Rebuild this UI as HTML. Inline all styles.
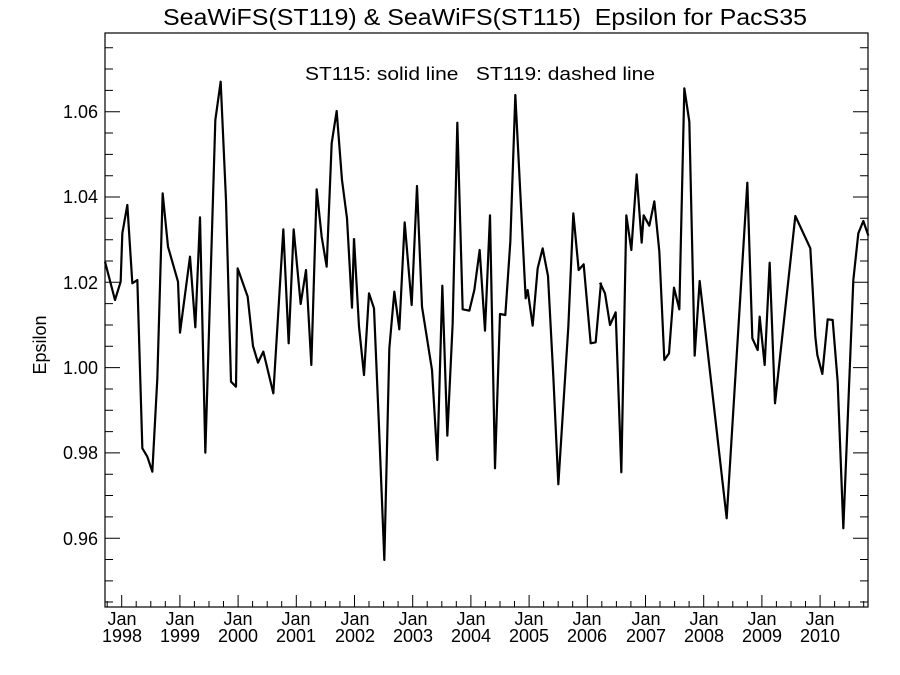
<!DOCTYPE html>
<html><head><meta charset="utf-8"><style>
body{margin:0;background:#fff;}
svg{display:block;font-family:"Liberation Sans",sans-serif;}
text{white-space:pre;}
</style></head><body>
<svg width="900" height="675" viewBox="0 0 900 675" xmlns="http://www.w3.org/2000/svg">
<rect width="900" height="675" fill="#fff"/>
<text x="163" y="25" font-size="23" textLength="644" lengthAdjust="spacingAndGlyphs" xml:space="preserve">SeaWiFS(ST119) &amp; SeaWiFS(ST115)  Epsilon for PacS35</text>
<text x="305" y="80" font-size="18" textLength="350" lengthAdjust="spacingAndGlyphs" xml:space="preserve">ST115: solid line   ST119: dashed line</text>
<rect x="105" y="33" width="763" height="574" fill="none" stroke="#000" stroke-width="1.2"/>
<g stroke="#000" stroke-width="1">
<path d="M105 111.7h15M868 111.7h-15M105 197h15M868 197h-15M105 282.3h15M868 282.3h-15M105 367.6h15M868 367.6h-15M105 452.9h15M868 452.9h-15M105 538.2h15M868 538.2h-15"/>
<path d="M105 47.7h8M868 47.7h-8M105 69h8M868 69h-8M105 90.4h8M868 90.4h-8M105 133h8M868 133h-8M105 154.4h8M868 154.4h-8M105 175.7h8M868 175.7h-8M105 218.3h8M868 218.3h-8M105 239.7h8M868 239.7h-8M105 261h8M868 261h-8M105 303.6h8M868 303.6h-8M105 325h8M868 325h-8M105 346.3h8M868 346.3h-8M105 389h8M868 389h-8M105 410.2h8M868 410.2h-8M105 431.6h8M868 431.6h-8M105 474.2h8M868 474.2h-8M105 495.5h8M868 495.5h-8M105 516.9h8M868 516.9h-8M105 559.5h8M868 559.5h-8M105 580.9h8M868 580.9h-8M105 602h8M868 602h-8"/>
<path d="M121.7 607v-12M179.9 607v-12M238.1 607v-12M296.3 607v-12M354.5 607v-12M412.7 607v-12M470.9 607v-12M529.1 607v-12M587.3 607v-12M645.5 607v-12M703.7 607v-12M761.9 607v-12M820.1 607v-12"/>
<path d="M107.2 607v-6"/>
<path id="mn" d="M136.2 607v-6M150.8 607v-6M165.3 607v-6"/>
<use href="#mn" x="58.2"/><use href="#mn" x="116.4"/><use href="#mn" x="174.6"/><use href="#mn" x="232.8"/><use href="#mn" x="291"/><use href="#mn" x="349.2"/><use href="#mn" x="407.4"/><use href="#mn" x="465.6"/><use href="#mn" x="523.8"/><use href="#mn" x="582"/><use href="#mn" x="640.2"/><use href="#mn" x="698.4"/>
</g>
<g font-size="18" text-anchor="end">
<text x="98" y="118">1.06</text><text x="98" y="203">1.04</text><text x="98" y="289">1.02</text><text x="98" y="374">1.00</text><text x="98" y="459">0.98</text><text x="98" y="545">0.96</text>
</g>
<text transform="translate(46,345) rotate(-90)" font-size="18" text-anchor="middle">Epsilon</text>
<g font-size="18" text-anchor="middle">
<text x="122" y="625">Jan</text><text x="122" y="642">1998</text>
<text x="180" y="625">Jan</text><text x="180" y="642">1999</text>
<text x="238" y="625">Jan</text><text x="238" y="642">2000</text>
<text x="296" y="625">Jan</text><text x="296" y="642">2001</text>
<text x="355" y="625">Jan</text><text x="355" y="642">2002</text>
<text x="413" y="625">Jan</text><text x="413" y="642">2003</text>
<text x="471" y="625">Jan</text><text x="471" y="642">2004</text>
<text x="529" y="625">Jan</text><text x="529" y="642">2005</text>
<text x="587" y="625">Jan</text><text x="587" y="642">2006</text>
<text x="646" y="625">Jan</text><text x="646" y="642">2007</text>
<text x="704" y="625">Jan</text><text x="704" y="642">2008</text>
<text x="762" y="625">Jan</text><text x="762" y="642">2009</text>
<text x="820" y="625">Jan</text><text x="820" y="642">2010</text>
</g>
<g fill="none" stroke="#000" stroke-width="2.2" stroke-linejoin="round">
<polyline transform="translate(100,60) scale(0.33333)" vector-effect="non-scaling-stroke" points="15,605 45,720 62,665 67,520 82,435 97,670 112,660 127,1165 142,1190 157,1235 172,955 188,400 204,560 234,665 240,818 270,590 286,802 300,472 316,1178 346,180 362,65 378,420 393,965 408,980 413,625 443,710 459,858 474,908 490,875 520,1000 550,508 566,850 581,508 602,732 618,630 634,915 650,388 665,530 680,620 695,250 710,153 726,360 741,475 756,743 762,535"/>
<polyline transform="translate(350,60) scale(0.33333)" vector-effect="non-scaling-stroke" points="12,535 27,800 42,945 57,700 72,745 87,1100 103,1500 118,865 133,695 148,808 164,487 185,735 201,378 216,740 246,930 262,1200 277,677 292,1127 308,790 322,188 338,748 358,752 373,690 389,570 405,812 420,466 435,1225 450,762 466,765 481,545 496,105 511,400 527,715 533,690 548,797 563,625 578,565 594,648 610,950 625,1273 655,800 670,460 686,630 701,613 722,850 737,847 753,668"/>
<polyline transform="translate(600,60) scale(0.33333)" vector-effect="non-scaling-stroke" points="0,668 15,700 30,795 47,757 64,1237 79,466 94,570 110,343 125,548 131,466 148,497 163,424 178,575 193,900 207,880 222,683 238,748 253,85 268,185 284,887 299,663 380,1375 442,368 457,835 473,870 479,770 494,915 509,608 525,1030 586,468 631,565 646,830 652,885 667,942 683,778 698,780 713,965 730,1405 760,660 775,520 790,483 805,527"/>
</g>
</svg>
</body></html>
